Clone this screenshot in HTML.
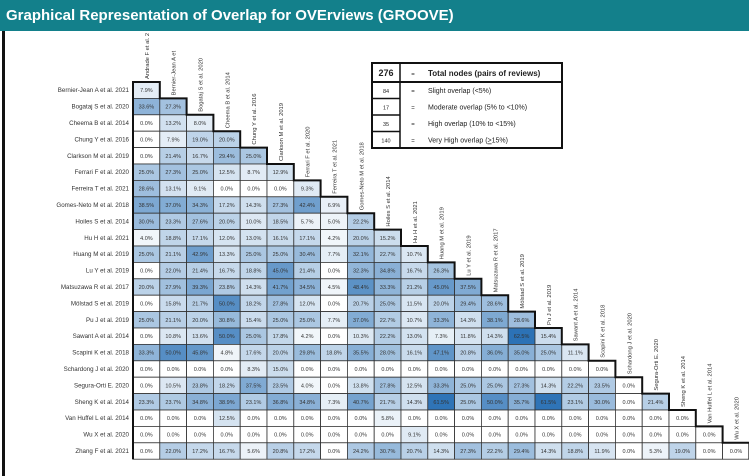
<!DOCTYPE html>
<html><head><meta charset="utf-8"><style>
html,body{margin:0;padding:0;background:#fff;}
body{width:749px;height:476px;overflow:hidden;position:relative;font-family:"Liberation Sans",sans-serif;}
#bar{position:absolute;left:0;top:0;width:749px;height:31px;background:#13808b;}
#title{position:absolute;left:6px;top:7px;color:#fff;font-weight:bold;font-size:15px;}
#leftline{position:absolute;left:2px;top:31px;width:3px;height:445px;background:#111;}
svg{position:absolute;left:0;top:0;}
</style></head><body>
<div id="bar"><div id="title">Graphical Representation of Overlap for OVErviews (GROOVE)</div></div>
<div id="leftline"></div>
<svg id="chart" width="749" height="476">
 <g font-family="Liberation Sans" fill="#222">
  <rect x="372" y="63" width="190" height="85" fill="#fff" stroke="#111" stroke-width="2"/>
  <line x1="400" y1="63" x2="400" y2="148" stroke="#111" stroke-width="1.5"/>
  <line x1="372" y1="82" x2="562" y2="82" stroke="#111" stroke-width="2"/>
  <line x1="372" y1="98.5" x2="400" y2="98.5" stroke="#111" stroke-width="1.5"/>
  <line x1="372" y1="115" x2="400" y2="115" stroke="#111" stroke-width="1.5"/>
  <line x1="372" y1="131.5" x2="400" y2="131.5" stroke="#111" stroke-width="1.5"/>
  <text x="386" y="76" font-size="9" font-weight="bold" text-anchor="middle">276</text>
  <text x="413" y="76" font-size="6" text-anchor="middle">=</text>
  <text x="428" y="76" font-size="8" font-weight="bold">Total nodes (pairs of reviews)</text>
  <text x="386" y="93" font-size="5.5" text-anchor="middle">84</text>
  <text x="413" y="93" font-size="6" text-anchor="middle">=</text>
  <text x="428" y="93" font-size="7">Slight overlap (&lt;5%)</text>
  <text x="386" y="109.5" font-size="5.5" text-anchor="middle">17</text>
  <text x="413" y="109.5" font-size="6" text-anchor="middle">=</text>
  <text x="428" y="109.5" font-size="7">Moderate overlap (5% to &lt;10%)</text>
  <text x="386" y="126" font-size="5.5" text-anchor="middle">35</text>
  <text x="413" y="126" font-size="6" text-anchor="middle">=</text>
  <text x="428" y="126" font-size="7">High overlap (10% to &lt;15%)</text>
  <text x="386" y="142.5" font-size="5.5" text-anchor="middle">140</text>
  <text x="413" y="142.5" font-size="6" text-anchor="middle">=</text>
  <text x="428" y="142.5" font-size="7">Very High overlap (<tspan text-decoration="underline">&gt;</tspan>15%)</text>
 </g>
</svg>
<script>
const rowLabels=["Bernier-Jean A et al. 2021","Bogataj S et al. 2020","Cheema B et al. 2014","Chung Y et al. 2016","Clarkson M et al. 2019","Ferrari F et al. 2020","Ferreira T et al. 2021","Gomes-Neto M et al. 2018","Hoiles S et al. 2014","Hu H et al. 2021","Huang M et al. 2019","Lu Y et al. 2019","Matsuzawa R et al. 2017","Mölstad S et al. 2019","Pu J et al. 2019","Sawant A et al. 2014","Scapini K et al. 2018","Schardong J et al. 2020","Segura-Orti E. 2020","Sheng K et al. 2014","Van Huffel L et al. 2014","Wu X et al. 2020","Zhang F et al. 2021"];
const colLabels=["Andrade F et al. 2","Bernier-Jean A et","Bogataj S et al. 2020","Cheema B et al. 2014","Chung Y et al. 2016","Clarkson M et al. 2019","Ferrari F et al. 2020","Ferreira T et al. 2021","Gomes-Neto M et al. 2018","Hoiles S et al. 2014","Hu H et al. 2021","Huang M et al. 2019","Lu Y et al. 2019","Matsuzawa R et al. 2017","Mölstad S et al. 2019","Pu J et al. 2019","Sawant A et al. 2014","Scapini K et al. 2018","Schardong J et al. 2020","Segura-Orti E. 2020","Sheng K et al. 2014","Van Huffel L et al. 2014","Wu X et al. 2020"];
const overlapValues=[
[7.9],
[33.6,27.3],
[0.0,13.2,8.0],
[0.0,7.9,19.0,20.0],
[0.0,21.4,16.7,29.4,25.0],
[25.0,27.3,25.0,12.5,8.7,12.9],
[28.6,13.1,9.1,0.0,0.0,0.0,9.3],
[38.5,37.0,34.3,17.2,14.3,27.3,42.4,6.9],
[30.0,23.3,27.6,20.0,10.0,18.5,5.7,5.0,22.2],
[4.0,18.8,17.1,12.0,13.0,16.1,17.1,4.2,20.0,15.2],
[25.0,21.1,42.9,13.3,25.0,25.0,30.4,7.7,32.1,22.7,10.7],
[0.0,22.0,21.4,16.7,18.8,45.0,21.4,0.0,32.3,34.8,16.7,26.3],
[20.0,27.9,39.3,23.8,14.3,41.7,34.5,4.5,48.4,33.3,21.2,45.0,37.5],
[0.0,15.8,21.7,50.0,18.2,27.8,12.0,0.0,20.7,25.0,11.5,20.0,29.4,28.6],
[25.0,21.1,20.0,30.8,15.4,25.0,25.0,7.7,37.0,22.7,10.7,33.3,14.3,38.1,28.6],
[0.0,10.8,13.6,50.0,25.0,17.8,4.2,0.0,10.3,22.2,13.0,7.3,11.8,14.3,62.5,15.4],
[33.3,50.0,45.8,4.8,17.6,20.0,29.8,18.8,35.5,28.0,16.1,47.1,20.8,36.0,35.0,25.0,11.1],
[0.0,0.0,0.0,0.0,8.3,15.0,0.0,0.0,0.0,0.0,0.0,0.0,0.0,0.0,0.0,0.0,0.0,0.0],
[0.0,10.5,23.8,18.2,37.5,23.5,4.0,0.0,13.8,27.8,12.5,33.3,25.0,25.0,27.3,14.3,22.2,23.5,0.0],
[23.3,23.7,34.8,38.9,23.1,36.8,34.8,7.3,40.7,21.7,14.3,61.5,25.0,50.0,35.7,61.5,23.1,30.0,0.0,21.4],
[0.0,0.0,0.0,12.5,0.0,0.0,0.0,0.0,0.0,5.8,0.0,0.0,0.0,0.0,0.0,0.0,0.0,0.0,0.0,0.0,0.0],
[0.0,0.0,0.0,0.0,0.0,0.0,0.0,0.0,0.0,0.0,9.1,0.0,0.0,0.0,0.0,0.0,0.0,0.0,0.0,0.0,0.0,0.0],
[0.0,22.0,17.2,16.7,5.6,20.8,17.2,0.0,24.2,30.7,20.7,14.3,27.3,22.2,29.4,14.3,18.8,11.9,0.0,5.3,19.0,0.0,0.0]
];
const maxValue=62.5;
const NS="http://www.w3.org/2000/svg";
const svg=document.getElementById('chart');
const X0=133,CW=26.8,Y0=82,RH=16.4;
function xOf(c){return X0+c*CW;}
function yOf(r){return Y0+r*RH;}
function color(v){const t=Math.min(1,v/maxValue);
 const r=Math.round(255+(44-255)*t),g=Math.round(255+(114-255)*t),b=Math.round(255+(182-255)*t);
 return `rgb(${r},${g},${b})`;}
function mk(tag,attrs){const e=document.createElementNS(NS,tag);for(const k in attrs)e.setAttribute(k,attrs[k]);return e;}
const gCells=mk('g',{});


svg.appendChild(gCells);
overlapValues.forEach((row,r)=>{
 const lab=mk('text',{x:129,y:yOf(r)+RH/2+2,'font-size':'6.2','text-anchor':'end',fill:'#333','font-family':'Liberation Sans'});
 lab.textContent=rowLabels[r];
 
 
 svg.appendChild(lab);
 row.forEach((v,c)=>{
  const rect=mk('rect',{x:xOf(c),y:yOf(r),width:CW,height:RH,fill:color(v),stroke:'#333','stroke-width':'0.8'});
  
  
  gCells.appendChild(rect);
  const t=mk('text',{x:xOf(c)+CW/2,y:yOf(r)+RH/2+2,'font-size':'5.5','text-anchor':'middle',fill:'#333','font-family':'Liberation Sans'});
  t.textContent=v.toFixed(1)+'%';
  
  
  gCells.appendChild(t);
 });
});
let d=`M${xOf(0)},${yOf(overlapValues.length)} L${xOf(0)},${yOf(0)}`;
overlapValues.forEach((row,r)=>{d+=` L${xOf(row.length)},${yOf(r)} L${xOf(row.length)},${yOf(r+1)}`;});
const outline=mk('path',{d:d,fill:'none',stroke:'#111','stroke-width':'2'});


svg.appendChild(outline);
colLabels.forEach((lab,c)=>{
 const x=xOf(c)+CW/2+2.5,y=yOf(c)-3;
 const t=mk('text',{x:x,y:y,'font-size':'5.8','text-anchor':'start',fill:'#333','font-family':'Liberation Sans',transform:`rotate(-90 ${x} ${y})`});
 t.textContent=lab;
 
 
 svg.appendChild(t);
});
</script>
</body></html>
